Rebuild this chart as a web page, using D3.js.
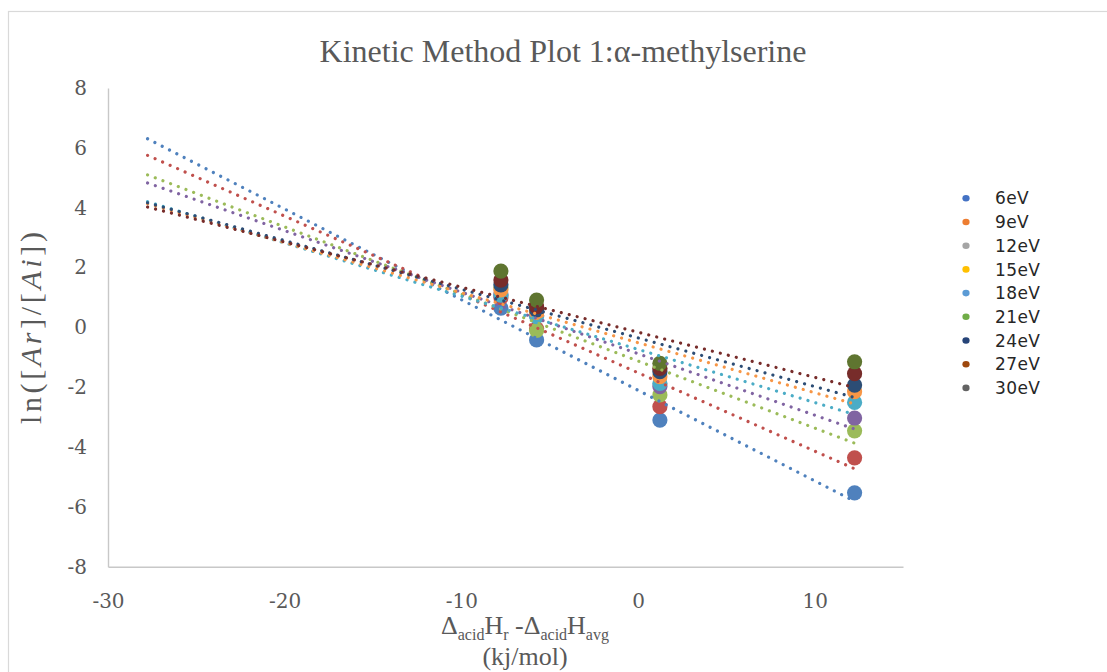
<!DOCTYPE html>
<html>
<head>
<meta charset="utf-8">
<script src="https://cdn.jsdelivr.net/npm/d3@7"></script>
<style>
  html, body { margin: 0; padding: 0; background: #fff; }
  svg { display: block; }
</style>
</head>
<body>
<svg id="chart" width="1107" height="672"></svg>
<script>
// Enthalpy offsets of the reference acids (kJ/mol)
const deltaH = [-7.76, -5.74, 1.24, 12.26];

// ln([Ar]/[Ai]) at each collision energy
const energies = ["6eV", "9eV", "12eV", "15eV", "18eV", "21eV", "24eV", "27eV", "30eV"];
const ln6eV  = [0.64, -0.42, -3.10, -5.53];
const ln9eV  = [0.99, -0.05, -2.65, -4.36];
const ln12eV = [1.32, -0.10, -2.26, -3.46];
const ln15eV = [1.09, 0.40, -1.98, -3.03];
const ln18eV = [1.08, 0.36, -1.87, -2.51];
const ln21eV = [1.25, 0.50, -1.65, -2.15];
const ln24eV = [1.42, 0.58, -1.48, -1.93];
const ln27eV = [1.58, 0.69, -1.37, -1.55];
const ln30eV = [1.88, 0.91, -1.20, -1.15];
const seriesValues = [ln6eV, ln9eV, ln12eV, ln15eV, ln18eV, ln21eV, ln24eV, ln27eV, ln30eV];

// Which series carry a linear trendline (backward forecast of 20 units)
const hasTrend = [true, true, true, true, true, true, true, true, false];
const backForecast = 20;

// Axis ticks
const xTicks = [-30, -20, -10, 0, 10];
const yTicks = [-8, -6, -4, -2, 0, 2, 4, 6, 8];

// Marker and legend colours
const markerColors = ["#4F81BD", "#C0504D", "#9BBB59", "#8064A2", "#4BACC6", "#F79646", "#2C4D75", "#772C2A", "#5F7530"];
const legendColors = ["#4472C4", "#ED7D31", "#A5A5A5", "#FFC000", "#5B9BD5", "#70AD47", "#264478", "#9E480E", "#636363"];

const svg = d3.select("#chart");

// outer chart frame
svg.append("rect")
  .attr("x", 8.5).attr("y", 11.5)
  .attr("width", 1200).attr("height", 800)
  .attr("fill", "none").attr("stroke", "#d9d9d9").attr("stroke-width", 1.2);

const x = d3.scaleLinear().domain([-30, 15]).range([108, 903]);
const y = d3.scaleLinear().domain([-8, 8]).range([566.7, 88]);

const axisGray = "#595959";
const serif = "'DejaVu Serif', serif";

// axes
const xAxis = svg.append("g").attr("transform", `translate(0,${y(-8)})`)
  .call(d3.axisBottom(x).tickValues(xTicks).tickSize(0).tickPadding(27).tickFormat(d3.format("d")));
const yAxis = svg.append("g").attr("transform", `translate(${x(-30)},0)`)
  .call(d3.axisLeft(y).tickValues(yTicks).tickSize(0).tickPadding(21).tickFormat(d3.format("d")));

[xAxis, yAxis].forEach(g => {
  g.select(".domain").attr("stroke", "#c8c8c8").attr("stroke-width", 1.4);
  g.selectAll("text").attr("fill", axisGray).style("font-family", serif).style("font-size", "20px");
});
xAxis.selectAll("text").text(d => d < 0 ? "-" + Math.abs(d) : d);
yAxis.selectAll("text").text(d => d < 0 ? "-" + Math.abs(d) : d);

// least-squares fit
function fit(xs, ys) {
  const mx = d3.mean(xs), my = d3.mean(ys);
  let sxy = 0, sxx = 0;
  xs.forEach((v, i) => { sxy += (v - mx) * (ys[i] - my); sxx += (v - mx) * (v - mx); });
  const slope = sxy / sxx;
  return { slope, intercept: my - slope * mx };
}

// markers
const markers = svg.append("g");
seriesValues.forEach((vals, s) => {
  markers.selectAll(null)
    .data(vals.map((v, i) => ({ x: deltaH[i], y: v })))
    .enter().append("circle")
    .attr("cx", d => x(d.x)).attr("cy", d => y(d.y))
    .attr("r", 7.6)
    .attr("fill", markerColors[s]);
});

// dotted trendlines on top of markers
const trends = svg.append("g");
seriesValues.forEach((vals, s) => {
  if (!hasTrend[s]) return;
  const f = fit(deltaH, vals);
  const x0 = d3.min(deltaH) - backForecast, x1 = d3.max(deltaH);
  const pts = [x0, x1].map(v => [x(v), y(f.intercept + f.slope * v)]);
  trends.append("path")
    .attr("d", d3.line()(pts))
    .attr("stroke", markerColors[s])
    .attr("stroke-width", 3.2)
    .attr("stroke-linecap", "round")
    .attr("stroke-dasharray", "0.01 8.2")
    .attr("fill", "none");
});

// title
svg.append("text")
  .attr("x", 563).attr("y", 62)
  .attr("text-anchor", "middle")
  .attr("fill", axisGray)
  .style("font-family", "'Liberation Serif', serif")
  .style("font-size", "32px")
  .text("Kinetic Method Plot 1:α-methylserine");

// x axis title with subscripts
const xt = svg.append("text")
  .attr("x", 525).attr("y", 634)
  .attr("text-anchor", "middle")
  .attr("fill", axisGray)
  .style("font-family", "'Liberation Serif', serif")
  .style("font-size", "26px");
xt.append("tspan").text("Δ");
xt.append("tspan").attr("dy", 6).style("font-size", "16px").text("acid");
xt.append("tspan").attr("dy", -6).text("H");
xt.append("tspan").attr("dy", 6).style("font-size", "16px").text("r");
xt.append("tspan").attr("dy", -6).text(" -Δ");
xt.append("tspan").attr("dy", 6).style("font-size", "16px").text("acid");
xt.append("tspan").attr("dy", -6).text("H");
xt.append("tspan").attr("dy", 6).style("font-size", "16px").text("avg");

svg.append("text")
  .attr("x", 525).attr("y", 665)
  .attr("text-anchor", "middle")
  .attr("fill", axisGray)
  .style("font-family", "'Liberation Serif', serif")
  .style("font-size", "26px")
  .text("(kj/mol)");

// y axis title
const yt = svg.append("text")
  .attr("transform", "translate(41,328) rotate(-90)")
  .attr("text-anchor", "middle")
  .attr("fill", axisGray)
  .attr("textLength", 192)
  .attr("lengthAdjust", "spacing")
  .style("font-family", "'Liberation Serif', serif")
  .style("font-size", "30px");
yt.append("tspan").text("ln([");
yt.append("tspan").style("font-style", "italic").text("Ar");
yt.append("tspan").text("]/[");
yt.append("tspan").style("font-style", "italic").text("Ai");
yt.append("tspan").text("])");

// legend
const legend = svg.append("g");
energies.forEach((name, i) => {
  const ly = 198.3 + i * 23.7;
  legend.append("ellipse")
    .attr("cx", 966).attr("cy", ly).attr("rx", 3.6).attr("ry", 3.3)
    .attr("fill", legendColors[i]);
  legend.append("text")
    .attr("x", 995).attr("y", ly)
    .attr("dy", "0.36em")
    .attr("fill", "#262626")
    .style("font-family", "'DejaVu Sans', sans-serif")
    .style("font-size", "17px")
    .style("letter-spacing", "0.4px")
    .text(name);
});
</script>
</body>
</html>
